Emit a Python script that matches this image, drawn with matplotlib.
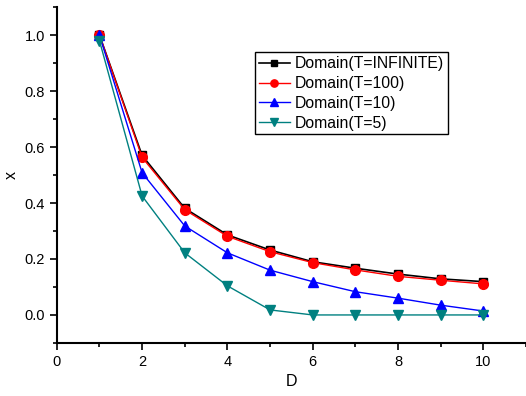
import matplotlib
matplotlib.use("Agg")
import matplotlib.pyplot as plt
from matplotlib.ticker import MultipleLocator

plt.rcParams['font.family'] = ['Liberation Sans', 'DejaVu Sans']

D = [1, 2, 3, 4, 5, 6, 7, 8, 9, 10]
x_inf = [1.0, 0.57, 0.381, 0.286, 0.232, 0.19, 0.167, 0.146, 0.129, 0.119]
x_100 = [1.0, 0.563, 0.376, 0.281, 0.226, 0.187, 0.161, 0.138, 0.124, 0.111]
x_10 = [1.0, 0.508, 0.318, 0.222, 0.16, 0.119, 0.083, 0.06, 0.035, 0.014]
x_5 = [0.98, 0.425, 0.222, 0.104, 0.018, 0.0, 0.0, 0.0, 0.0, 0.0]

fig = plt.figure(figsize=(5.26, 3.96), dpi=100)
ax = fig.add_axes([0.108, 0.134, 0.892, 0.848])

ax.plot(D, x_inf, color='black', marker='s', markersize=6, linewidth=1.2, label='Domain(T=INFINITE)')
ax.plot(D, x_100, color='red', marker='o', markersize=7, linewidth=1, label='Domain(T=100)')
ax.plot(D, x_10, color='blue', marker='^', markersize=7, linewidth=1, label='Domain(T=10)')
ax.plot(D, x_5, color='#008080', marker='v', markersize=7, linewidth=1, label='Domain(T=5)')

ax.set_xlim(0, 11)
ax.set_ylim(-0.1, 1.1)
ax.xaxis.set_major_locator(MultipleLocator(2))
ax.xaxis.set_minor_locator(MultipleLocator(1))
ax.yaxis.set_major_locator(MultipleLocator(0.2))
ax.yaxis.set_minor_locator(MultipleLocator(0.1))
ax.yaxis.set_major_formatter(matplotlib.ticker.FormatStrFormatter('%.1f'))
ax.spines['top'].set_visible(False)
ax.spines['right'].set_visible(False)
ax.spines['left'].set_linewidth(1.5)
ax.spines['bottom'].set_linewidth(1.5)
ax.tick_params(which='major', direction='out', length=5, width=1.2, labelsize=10.5)
ax.tick_params(which='minor', direction='out', length=3, width=1.2)

ax.set_xlabel('D', fontsize=11.5)
ax.set_ylabel('x', fontsize=11.5)

leg = ax.legend(loc='upper left', bbox_to_anchor=(0.422, 0.865), fontsize=11.3,
                frameon=True, fancybox=False, edgecolor='black', framealpha=1,
                handlelength=2.0, handletextpad=0.3, borderpad=0.25, labelspacing=0.3,
                borderaxespad=0, markerscale=0.75)
leg.get_frame().set_linewidth(1)

fig.savefig('out.png', dpi=100)
